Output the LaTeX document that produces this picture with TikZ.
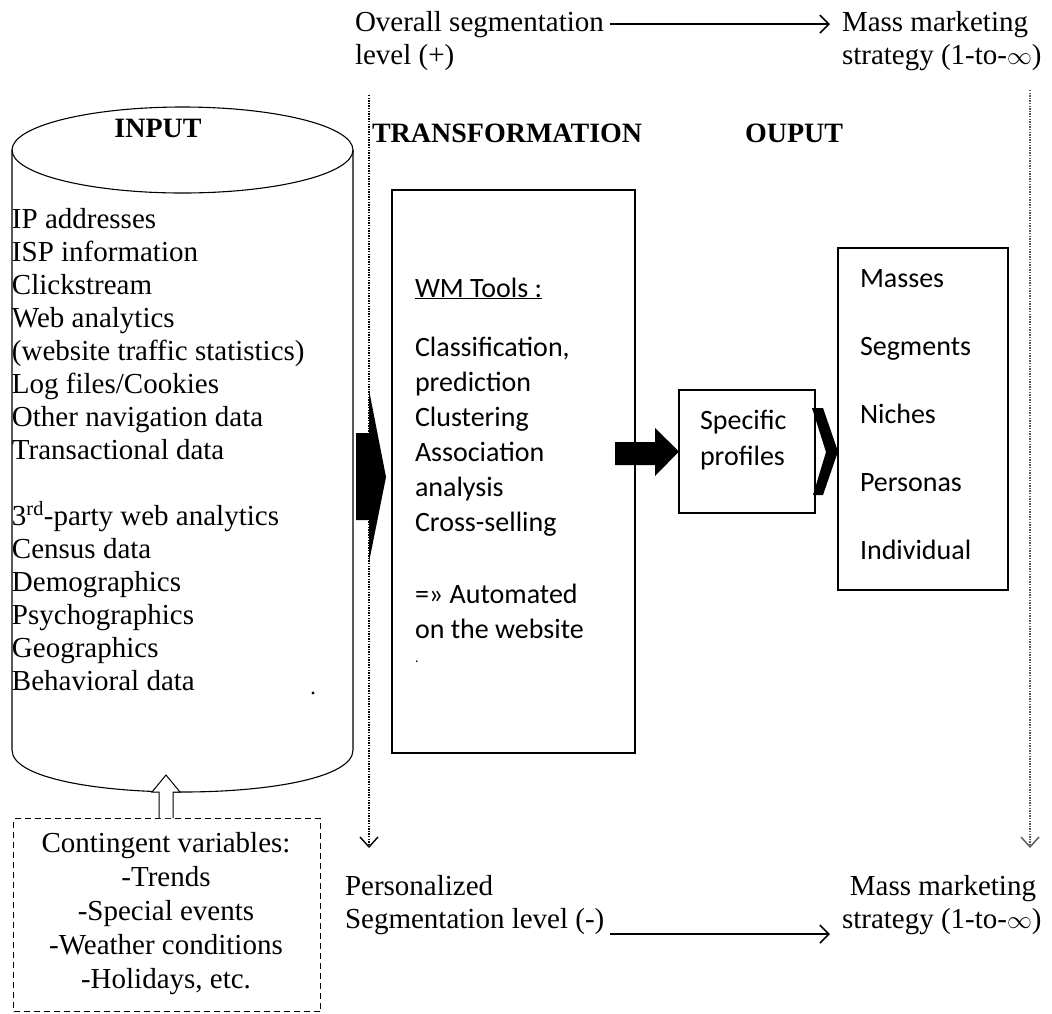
\documentclass[tikz,border=0pt]{standalone}
\usepackage{fontspec}
\setmainfont{Liberation Serif}
\newfontfamily\calib{Carlito}
\usetikzlibrary{arrows.meta}

\begin{document}
\begin{tikzpicture}[x=1pt,y=-1pt,
  serif/.style={font=\fontsize{29}{33}\selectfont, inner sep=0pt, outer sep=0pt},
  sans/.style={font=\calib\fontsize{28}{35}\selectfont, inner sep=0pt, outer sep=0pt},
  hdr/.style={font=\fontsize{28}{33}\selectfont\bfseries, inner sep=0pt, outer sep=0pt},
  frame/.style={draw, line width=1.1pt, inner sep=0pt, outer sep=0pt},
  flow/.style={line width=1.8pt, -{Straight Barb[length=9pt,width=18pt,line width=1.6pt]}},
  guide/.style={line width=2.2pt, dash pattern=on 1.3pt off 1.3pt,
                -{Straight Barb[length=10pt,width=18pt,line width=1.4pt]}},
]
\useasboundingbox (0,0) rectangle (1052,1013);
\fill[white] (0,0) rectangle (1052,1013);

% ---- top scale: overall segmentation -> mass marketing
\node[serif, anchor=base west] (ovr) at (355,31) {Overall segmentation};
\node[serif, anchor=base west] (ovr2) at (355,64) {level (+)};
\node[serif, anchor=base west] (mm) at (842,31) {Mass marketing};
\node[serif, anchor=base west] (mm2) at (842,64) {strategy (1-to-\ensuremath{\infty})};
\draw[flow] ([xshift=6pt]ovr.east) -- ([xshift=-12pt]mm.west);

% ---- vertical guides
\coordinate (lgTop) at (369,95);
\coordinate (lgEnd) at (369,848);
\coordinate (rgTop) at (1030,90);
\coordinate (rgEnd) at (1030,848);
\draw[guide] (lgTop) -- (lgEnd);
\draw[guide, draw=black!65] (rgTop) -- (rgEnd);

% ---- column headers
\node[hdr] (hin) at (158,128) {INPUT};
\node[hdr, anchor=base west] (htr) at (372,142) {TRANSFORMATION};
\node[hdr, anchor=base west] (hout) at (745,142) {OUPUT};

% ---- input cylinder
\draw[line width=1.1pt] (12,150) -- (12,750)
  .. controls (12,806) and (353,806) .. (353,750) -- (353,150);
\draw[line width=1.1pt] (182.5,150) ellipse [x radius=170.5, y radius=43];

\foreach \t [count=\i] in {IP addresses, ISP information, Clickstream, Web analytics,
    (website traffic statistics), Log files/Cookies, Other navigation data, Transactional data}
  \node[serif, anchor=base west] (ina\i) at (12,195+33*\i) {\t};
\foreach \t [count=\i] in {3\textsuperscript{rd}-party web analytics, Census data, Demographics,
    Psychographics, Geographics, Behavioral data}
  \node[serif, anchor=base west] (inb\i) at (12,492+33*\i) {\t};
\fill (313,693) circle (1.6pt);

% ---- block arrow from the input into the transformation
\fill (356,433) -- (369,433) -- (369,390) -- (386,477) -- (369,562)
      -- (369,520) -- (356,520) -- cycle;

% ---- transformation box
\node[frame, minimum width=243pt, minimum height=563pt, anchor=north west] (tbox) at (392,190) {};
\node[sans, anchor=base west] (wm) at (415,297) {\underline{WM Tools :}};
\foreach \t [count=\i] in {Classification{,}, prediction, Clustering, Association, analysis, Cross-selling}
  \node[sans, anchor=base west] (tl\i) at (415,321+35*\i) {\t};
\node[sans, anchor=base west] (auto1) at (415,603) {=» Automated};
\node[sans, anchor=base west] (auto2) at (415,638) {on the website};
\node[sans, anchor=base west] (stray) at (415,662) {\fontsize{14}{14}\selectfont .};

% ---- specific profiles
\node[frame, minimum width=136pt, minimum height=123pt, anchor=north west] (prof) at (679,390) {};
\node[sans, anchor=base west] (pr1) at (700,429) {Specific};
\node[sans, anchor=base west] (pr2) at (700,465) {profiles};
\fill (615,442) -- (655,442) -- (655,428) -- (prof.west) -- (655,476) -- (655,465) -- (615,465) -- cycle;

% ---- output box
\node[frame, minimum width=170pt, minimum height=342pt, anchor=north west] (obox) at (838,248) {};
\foreach \t [count=\i] in {Masses, Segments, Niches, Personas, Individual}
  \node[sans, anchor=base west] (ol\i) at (860,219+68*\i) {\t};
\fill (812,408) -- (823,408) -- (obox.west |- prof.east) -- (823,495) -- (813,495) -- (826,452) -- cycle;

% ---- contingent variables
\node[draw, line width=1pt, dash pattern=on 6pt off 4pt, minimum width=307pt, minimum height=193pt,
      anchor=north west, inner sep=0pt] (cont) at (13,818) {};
\foreach \t [count=\i] in {Contingent variables:, -Trends, -Special events, -Weather conditions, {-Holidays, etc.}}
  \node[serif, anchor=base] (cv\i) at (166,818+34*\i) {\t};
\draw[line width=1pt, fill=white] (159,818) -- (159,792) -- (152,792) -- (166,775)
  -- (180,792) -- (173,792) -- (173,818);

% ---- bottom scale: personalized -> mass marketing
\node[serif, anchor=base west] (per1) at (345,895) {Personalized};
\node[serif, anchor=base west] (per2) at (345,928) {Segmentation level (-)};
\node[serif, anchor=base east] (mb1) at (1036,895) {Mass marketing};
\node[serif, anchor=base west] (mb2) at (842,928) {strategy (1-to-\ensuremath{\infty})};
\draw[flow] ([xshift=6pt,yshift=-6pt]per2.base east) -- ([xshift=-12pt,yshift=-6pt]mb2.base west);
\end{tikzpicture}
\end{document}
